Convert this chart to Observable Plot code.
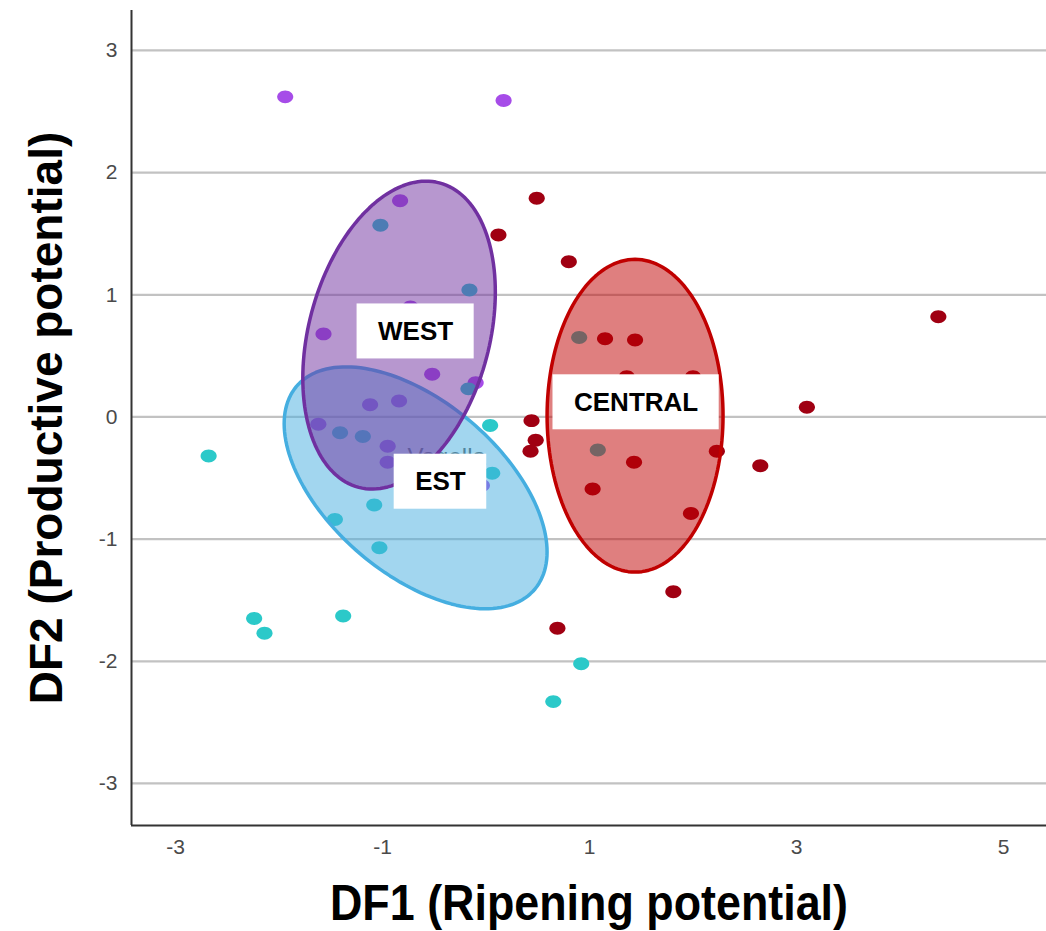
<!DOCTYPE html>
<html>
<head>
<meta charset="utf-8">
<script src="https://cdn.jsdelivr.net/npm/d3@7"></script>
<script src="https://cdn.jsdelivr.net/npm/@observablehq/plot@0.6"></script>
<style>
  html, body { margin: 0; padding: 0; background: #fff; }
  #chart svg { display: block; }
</style>
</head>
<body>
<div id="chart"></div>
<script>
// ---------- data ----------
const xTitle = "DF1 (Ripening potential)";
const yTitle = "DF2 (Productive potential)";
const xTicks = [-3, -1, 1, 3, 5];
const yTicks = [-3, -2, -1, 0, 1, 2, 3];
const xDomain = [-3.425, 5.415];
const yDomain = [-3.344, 3.327];

const groups = ["WEST", "EST", "CENTRAL"];
const pointColors = ["#a64ce8", "#2bc9c9", "#a00012"];
const ellipseColors = ["#7030a0", "#45aee0", "#c00000"];

// WEST points
const westX = [-1.94, 0.17, -0.83, -0.73, -1.57, -0.52, -0.10, -1.12, -0.84, -1.62, -0.95, -0.95, -0.04];
const westY = [2.62, 2.59, 1.77, 0.90, 0.68, 0.35, 0.28, 0.10, 0.13, -0.06, -0.24, -0.37, -0.56];
// EST points
const estX = [-2.68, -1.02, -0.16, -0.17, -1.41, -1.19, 0.04, 0.06, -1.08, -1.46, -1.03, -2.24, -2.14, -1.38, 0.92, 0.65, 0.90, 1.08];
const estY = [-0.32, 1.57, 1.04, 0.23, -0.13, -0.16, -0.07, -0.46, -0.72, -0.84, -1.07, -1.65, -1.77, -1.63, -2.02, -2.33, 0.65, -0.27];
// CENTRAL points
const centralX = [0.49, 0.12, 0.80, 4.37, 1.15, 1.44, 1.36, 2.00, 3.10, 0.44, 0.48, 0.43, 1.43, 2.23, 2.65, 1.03, 1.98, 1.81, 0.69];
const centralY = [1.79, 1.49, 1.27, 0.82, 0.64, 0.63, 0.33, 0.33, 0.08, -0.03, -0.19, -0.28, -0.37, -0.28, -0.40, -0.59, -0.79, -1.43, -1.73];

// group ellipses: centre, spread (sd) and correlation
const ellCX = [-0.84, -0.68, 1.44];
const ellCY = [0.67, -0.58, 0.01];
const ellSX = [0.93, 1.27, 0.85];
const ellSY = [1.26, 0.99, 1.28];
const ellRho = [0.28, -0.53, 0];

// group labels
const labelX = [-0.68, -0.44, 1.45];
const labelY = [0.70, -0.53, 0.12];

// point name partly hidden
const noteText = ["Vagella"];
const noteX = [-0.38];
const noteY = [-0.39];

// ---------- build ----------
const pts = (xs, ys) => xs.map((x, i) => ({x, y: ys[i]}));
const groupPoints = [pts(westX, westY), pts(estX, estY), pts(centralX, centralY)];

function ellipsePath(i) {
  const out = [];
  const n = 160;
  const s = Math.sqrt(1 - ellRho[i] * ellRho[i]);
  for (let k = 0; k < n; k++) {
    const t = (2 * Math.PI * k) / n;
    out.push({
      x: ellCX[i] + ellSX[i] * Math.cos(t),
      y: ellCY[i] + ellSY[i] * (ellRho[i] * Math.cos(t) + s * Math.sin(t))
    });
  }
  return out;
}

const oval = {
  draw(ctx, size) {
    const r = Math.sqrt(size / Math.PI);
    const rx = r * 1.12, ry = r * 0.9, k = 0.5523;
    ctx.moveTo(rx, 0);
    ctx.bezierCurveTo(rx, k * ry, k * rx, ry, 0, ry);
    ctx.bezierCurveTo(-k * rx, ry, -rx, k * ry, -rx, 0);
    ctx.bezierCurveTo(-rx, -k * ry, -k * rx, -ry, 0, -ry);
    ctx.bezierCurveTo(k * rx, -ry, rx, -k * ry, rx, 0);
    ctx.closePath();
  }
};

const labelFont = "Liberation Sans, Arial, sans-serif";
const labelSize = 26;
const cv = document.createElement("canvas").getContext("2d");
cv.font = `bold ${labelSize}px ${labelFont}`;

const marks = [];
// grid
marks.push(Plot.ruleY(yTicks, {stroke: "#c2c2c2", strokeWidth: 2.2}));
// points
groups.forEach((g, i) => {
  marks.push(Plot.dot(groupPoints[i], {x: "x", y: "y", r: 7.2, symbol: oval, fill: pointColors[i], stroke: "none"}));
});
// hidden point label
marks.push(Plot.text(noteText, {x: (d, i) => noteX[i], y: (d, i) => noteY[i], text: d => d, fontSize: 24, fill: "#5a5a5a", textAnchor: "middle", lineAnchor: "bottom", fontFamily: labelFont}));
// ellipses (EST, CENTRAL, WEST)
[1, 2, 0].forEach(i => {
  marks.push(Plot.line(ellipsePath(i), {x: "x", y: "y", curve: "linear-closed", stroke: ellipseColors[i], strokeWidth: 3.5, fill: ellipseColors[i], fillOpacity: 0.5}));
});
// label boxes and text
groups.forEach((g, i) => {
  const w = cv.measureText(g).width;
  const hw = w / 2 + 21;
  marks.push(Plot.rect([g], {x1: () => labelX[i], x2: () => labelX[i], y1: () => labelY[i], y2: () => labelY[i],
    fill: "white", insetLeft: -hw, insetRight: -hw, insetTop: -27.5, insetBottom: -27.5}));
  marks.push(Plot.text([g], {x: () => labelX[i], y: () => labelY[i], text: d => d, fontSize: labelSize, fontWeight: "bold",
    fontFamily: labelFont, fill: "#000", textAnchor: "middle", lineAnchor: "middle"}));
});
// axis lines
marks.push(Plot.ruleX([xDomain[0]], {stroke: "#333", strokeWidth: 2}));
marks.push(Plot.ruleY([yDomain[0]], {stroke: "#333", strokeWidth: 2}));
// axis titles
marks.push(Plot.text([xTitle], {frameAnchor: "bottom", dy: 78, text: d => d, fontSize: 50, fontWeight: "bold",
  fontFamily: "Liberation Sans, Arial, sans-serif", fill: "#000", textAnchor: "middle", lineAnchor: "middle"}));
marks.push(Plot.text([yTitle], {frameAnchor: "left", dx: -84, rotate: -90, text: d => d, fontSize: 46, fontWeight: "bold",
  fontFamily: "Liberation Sans, Arial, sans-serif", fill: "#000", textAnchor: "middle", lineAnchor: "middle"}));

const chart = Plot.plot({
  width: 1046,
  height: 931,
  marginLeft: 131,
  marginRight: 0,
  marginTop: 10,
  marginBottom: 106,
  style: {fontFamily: "Liberation Sans, Arial, sans-serif", fontSize: "21px", color: "#4a4a4a", background: "#fff", overflow: "visible"},
  x: {domain: xDomain, ticks: xTicks, tickSize: 0, tickPadding: 14, label: null, tickFormat: d => String(d)},
  y: {domain: yDomain, ticks: yTicks, tickSize: 0, tickPadding: 14, label: null, tickFormat: d => String(d)},
  marks
});
// axis tick label size and condensed x title
d3.select(chart).selectAll('[aria-label^="x-axis"] text, [aria-label^="y-axis"] text')
  .style("font-size", "21px");
d3.select(chart).selectAll("text")
  .filter(function() { return this.textContent === xTitle; })
  .attr("textLength", 518)
  .attr("lengthAdjust", "spacingAndGlyphs");
document.getElementById("chart").appendChild(chart);
</script>
</body>
</html>
